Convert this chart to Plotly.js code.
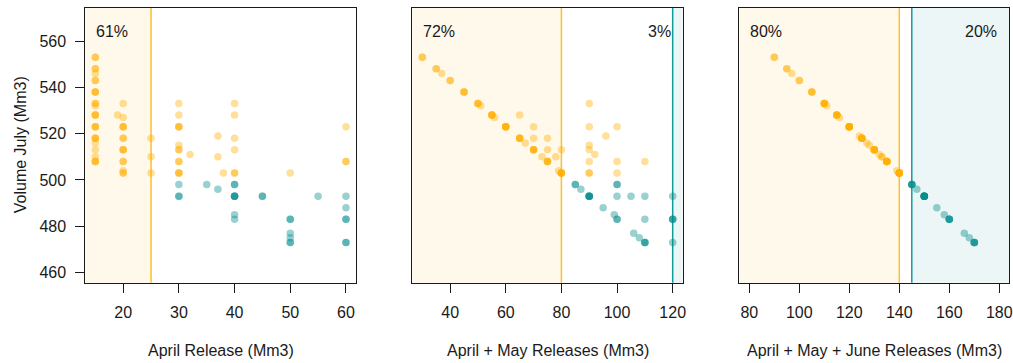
<!DOCTYPE html>
<html>
<head>
<meta charset="utf-8">
<script src="https://cdn.plot.ly/plotly-3.0.1.min.js"></script>
<style>html,body{margin:0;padding:0;background:#fff;}#chart{width:1013px;height:363px;}</style>
</head>
<body>
<div id="chart"></div>
<script>
// ---------- data ----------
const volumeThreshold = 500;

const p1Release = [15,15,15,15,15,15,15,15,15,15,15,15,15,15, 19, 20,20,20,20,20,20,20,20, 25,25,25, 30,30,30,30,30,30,30,30,30, 32, 35, 37,37,37, 38, 40,40,40,40,40,40,40,40,40, 45, 50,50,50,50,50, 55, 60,60,60,60,60,60];
const p1Volume  = [553,548,546,543,538,533,532,528,523,518,516,513,510,508, 528, 533,527,523,518,513,508,504,503, 518,510,503, 533,528,523,515,513,508,503,498,493, 511, 498, 519,510,496, 503, 533,528,518,513,503,498,493,485,483, 493, 503,483,477,475,473, 493, 523,508,493,488,483,473];
const p1Count   = [2,2,1,2,3,2,1,3,3,3,1,1,1,3, 1, 1,1,3,2,3,2,1,2, 1,1,1, 1,1,3,1,2,2,3,1,2, 1, 1, 1,1,1, 1, 1,1,1,1,2,2,4,1,1, 2, 1,2,1,1,2, 1, 1,2,1,1,2,2];

const p2Release = [30,35,37,40,45,50,51,55,56,60,65,65,67,70,70,70,73,75,75,75,78,79,80,80,90,90,90,90,90,90,92,96,100,100,100,110, 85,87,90,95,99,100,100,100,105,106,108,110,110,110,120,120,120];
const p2Volume  = [553,548,546,543,538,533,532,528,527,523,528,518,516,523,518,513,510,518,513,508,510,504,513,503,533,523,515,513,508,503,511,519,523,508,503,508, 498,496,493,488,485,498,493,483,493,477,475,493,483,473,493,483,473];
const p2Count   = [2,2,1,2,3,3,1,4,1,5,1,4,1,1,1,4,1,1,1,4,1,1,1,5,1,1,1,1,1,2,1,1,1,1,1,1, 2,1,5,1,1,2,1,2,1,1,1,1,1,3,1,3,1];

const p3Release = [90,95,97,100,105,110,111,115,116,120,124,125,127,128,130,132,133,135,139,140,145,147,150,155,158,160,166,168,170];
const p3Volume  = [553,548,546,543,538,533,532,528,527,523,519,518,516,515,513,511,510,508,504,503,498,496,493,488,485,483,477,475,473];
const p3Count   = [2,2,1,2,3,5,1,5,1,8,1,6,1,1,6,1,2,7,1,8,4,1,8,1,1,4,1,1,4];

const xTitles = ['April Release (Mm3)', 'April + May Releases (Mm3)', 'April + May + June Releases (Mm3)'];
const yTitle = 'Volume July (Mm3)';
const xTicks = [[20,30,40,50,60],[40,60,80,100,120],[80,100,120,140,160,180]];
const yTicks = [460,480,500,520,540,560];
const orangeCut = [25, 80, 140];
const tealCut = [null, 120, 145];
const orangePct = ['61%', '72%', '80%'];
const tealPct = ['', '3%', '20%'];

// ---------- style ----------
const W = 1013, H = 363;
const ORANGE = 'rgba(255,176,0,0.4)';
const TEAL = 'rgba(0,139,139,0.4)';
const ORANGE_FILL = 'rgba(255,176,0,0.075)';
const TEAL_FILL = 'rgba(0,139,139,0.075)';
const FONT = 'Liberation Sans, Arial, Helvetica, sans-serif';
const FS = 16;
const xRanges = [[13.2, 61.8], [26.4, 123.6], [76, 184]];
const yRange = [455.6, 574.4];
const xDomPx = [[85.3, 356], [412.3, 682.7], [739.3, 1009.3]];
const yDomPx = [7.7, 282.7];

const panels = [
  {x: p1Release, y: p1Volume, n: p1Count},
  {x: p2Release, y: p2Volume, n: p2Count},
  {x: p3Release, y: p3Volume, n: p3Count}
];

const traces = [];
panels.forEach((p, i) => {
  const o = {x: [], y: []}, t = {x: [], y: []};
  p.x.forEach((xv, k) => {
    const dest = p.y[k] >= volumeThreshold ? o : t;
    for (let r = 0; r < p.n[k]; r++) { dest.x.push(xv); dest.y.push(p.y[k]); }
  });
  const ax = i === 0 ? '' : String(i + 1);
  [[t, TEAL], [o, ORANGE]].forEach(([d, c]) => {
    traces.push({
      type: 'scatter', mode: 'markers', x: d.x, y: d.y,
      xaxis: 'x' + ax, yaxis: 'y' + ax,
      marker: {color: c, size: 7.5, line: {width: 0}},
      hoverinfo: 'x+y', showlegend: false
    });
  });
});

const layout = {
  width: W, height: H,
  margin: {l: 0, r: 0, t: 0, b: 0},
  paper_bgcolor: '#fff', plot_bgcolor: '#fff',
  font: {family: FONT, size: FS, color: '#1a1a1a'},
  showlegend: false,
  shapes: [], annotations: []
};

const yDom = [(H - yDomPx[1]) / H, (H - yDomPx[0]) / H];
for (let i = 0; i < 3; i++) {
  const ax = i === 0 ? '' : String(i + 1);
  layout['xaxis' + ax] = {
    domain: [xDomPx[i][0] / W, xDomPx[i][1] / W],
    range: xRanges[i], anchor: 'y' + ax,
    tickvals: xTicks[i], ticktext: xTicks[i].map(String),
    ticks: 'outside', ticklen: 9, tickwidth: 1, tickcolor: '#1a1a1a',
    ticklabelstandoff: 6,
    showline: true, mirror: true, linecolor: '#1a1a1a', linewidth: 1,
    showgrid: false, zeroline: false,
    tickfont: {family: FONT, size: FS, color: '#1a1a1a'}
  };
  layout['yaxis' + ax] = {
    domain: yDom, range: yRange, anchor: 'x' + ax,
    tickvals: i === 0 ? yTicks : [], showticklabels: i === 0,
    ticks: i === 0 ? 'outside' : '', ticklen: 9, tickwidth: 1, tickcolor: '#1a1a1a',
    ticklabelstandoff: 6,
    showline: true, mirror: true, linecolor: '#1a1a1a', linewidth: 1,
    showgrid: false, zeroline: false,
    tickfont: {family: FONT, size: FS, color: '#1a1a1a'}
  };
  const xr = 'x' + ax, yr = 'y' + ax + ' domain';
  // shaded regions
  layout.shapes.push({type: 'rect', layer: 'below', xref: xr, yref: yr,
    x0: xRanges[i][0], x1: orangeCut[i], y0: 0, y1: 1, fillcolor: ORANGE_FILL, line: {width: 0}});
  if (tealCut[i] !== null) {
    layout.shapes.push({type: 'rect', layer: 'below', xref: xr, yref: yr,
      x0: tealCut[i], x1: xRanges[i][1], y0: 0, y1: 1, fillcolor: TEAL_FILL, line: {width: 0}});
    layout.shapes.push({type: 'line', layer: 'below', xref: xr, yref: yr,
      x0: tealCut[i], x1: tealCut[i], y0: 0, y1: 1, line: {color: '#119c9c', width: 1.5}});
  }
  layout.shapes.push({type: 'line', layer: 'below', xref: xr, yref: yr,
    x0: orangeCut[i], x1: orangeCut[i], y0: 0, y1: 1, line: {color: '#ffbe2e', width: 1.5}});
  // percentage labels
  layout.annotations.push({xref: xr + ' domain', yref: yr, x: 0, y: 1, xanchor: 'left', yanchor: 'top',
    xshift: 9, yshift: -13, text: orangePct[i], showarrow: false, font: {family: FONT, size: FS, color: '#1a1a1a'}});
  if (tealPct[i]) {
    layout.annotations.push({xref: xr + ' domain', yref: yr, x: 1, y: 1, xanchor: 'right', yanchor: 'top',
      xshift: -10, yshift: -13, text: tealPct[i], showarrow: false, font: {family: FONT, size: FS, color: '#1a1a1a'}});
  }
  // x axis title
  layout.annotations.push({xref: 'paper', yref: 'paper',
    x: (xDomPx[i][0] + xDomPx[i][1]) / 2 / W, y: (H - 350) / H, xanchor: 'center', yanchor: 'middle',
    text: xTitles[i], showarrow: false, font: {family: FONT, size: FS, color: '#1a1a1a'}});
}
// y axis title
layout.annotations.push({xref: 'paper', yref: 'paper', x: 20 / W, y: (H - (yDomPx[0] + yDomPx[1]) / 2) / H,
  xanchor: 'center', yanchor: 'middle', textangle: -90, text: yTitle, showarrow: false,
  font: {family: FONT, size: FS, color: '#1a1a1a'}});

Plotly.newPlot('chart', traces, layout, {displayModeBar: false, staticPlot: true});
</script>
</body>
</html>
